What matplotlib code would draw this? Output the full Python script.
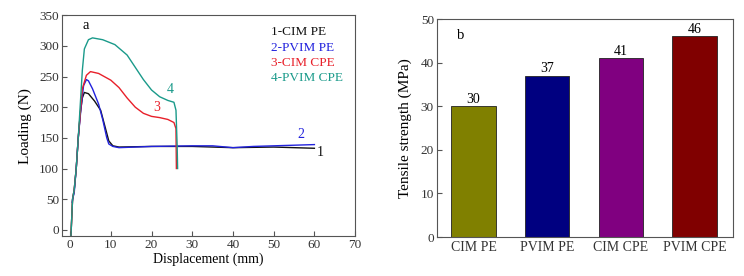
import numpy as np
import matplotlib
matplotlib.use('Agg')
import matplotlib.pyplot as plt

plt.rcParams['font.family'] = ['Liberation Serif', 'DejaVu Serif']
plt.rcParams['font.size'] = 9.5

# Curvas carga-desplazamiento
x1 = [0.2, 0.6, 1.0, 1.5, 2.0, 2.5, 3.0, 3.5, 4.5, 6.0, 7.5, 8.5, 9.5, 10.5, 12, 20, 30, 40, 50, 60]
y1 = [-10, 50, 65, 100, 150, 190, 215, 224, 222, 210, 195, 170, 145, 137, 135, 136, 136, 134, 135, 133]

x2 = [0.5, 0.8, 1.0, 1.5, 2.0, 2.7, 3.3, 4.0, 4.5, 5.5, 7.0, 8.0, 9.0, 9.5, 10.5, 12, 20, 30, 35, 40, 45, 50, 60]
y2 = [45, 55, 60, 100, 150, 200, 235, 245, 243, 230, 205, 180, 150, 140, 136, 134, 136, 137, 137, 134, 136, 137, 139]

x3 = [0.2, 0.6, 1.0, 1.5, 2.0, 3.0, 4.0, 5.0, 7.0, 10, 12, 14, 16, 18, 20, 22, 24, 25.5, 26.0, 26.1]
y3 = [-10, 50, 65, 100, 150, 230, 252, 258, 255, 244, 232, 215, 200, 190, 185, 183, 180, 175, 165, 100]

x4 = [0.2, 0.6, 1.0, 1.5, 2.0, 3.0, 3.5, 4.5, 5.5, 8, 11, 14, 16, 18, 20, 22, 24, 25.5, 26.0, 26.3, 26.4]
y4 = [-10, 50, 65, 100, 150, 260, 295, 310, 313, 310, 302, 285, 265, 245, 228, 217, 211, 208, 195, 135, 100]

leyendas = ['1-CIM PE', '2-PVIM PE', '3-CIM CPE', '4-PVIM CPE']
colores = ['#111111', '#2222dd', '#e8202a', '#1a9a8a']

# Resistencia a traccion
muestras = ['CIM PE', 'PVIM PE', 'CIM CPE', 'PVIM CPE']
resistencia = [30, 37, 41, 46]
colores_barras = ['#808000', '#000080', '#800080', '#800000']

fig = plt.figure(figsize=(7.44, 2.76), dpi=100)

# Panel a
ax1 = fig.add_axes([0.0833, 0.145, 0.394, 0.80])
for xs, ys, c in zip([x1, x2, x3, x4], [y1, y2, y3, y4], colores):
    ax1.plot(xs, ys, color=c, lw=1.0)
ax1.set_xlim(-2, 70)
ax1.set_ylim(-10, 350)
ax1.set_xticks(range(0, 71, 10))
ax1.set_yticks(range(0, 351, 50))
ax1.set_xlabel('Displacement (mm)', labelpad=1, fontsize=10)
ax1.set_ylabel('Loading (N)', labelpad=5, fontsize=11)
ax1.text(3, 328, 'a', fontsize=10.5)
for i, (t, c) in enumerate(zip(leyendas, colores)):
    ax1.text(49.4, 322 - 25 * i, t, color=c, va='center', fontsize=9.5)
ax1.text(24.5, 229, '4', color=colores[3], ha='center', va='center', fontsize=10)
ax1.text(21.3, 199, '3', color=colores[2], ha='center', va='center', fontsize=10)
ax1.text(56.8, 155, '2', color=colores[1], ha='center', va='center', fontsize=10)
ax1.text(61.5, 126, '1', color=colores[0], ha='center', va='center', fontsize=10)

# Panel b
ax2 = fig.add_axes([0.587, 0.141, 0.398, 0.79])
pos = np.arange(len(muestras))
ax2.bar(pos, resistencia, width=0.6, color=colores_barras, edgecolor='#222222', lw=0.6)
for p, v in zip(pos, resistencia):
    ax2.text(p, v + 0.1, str(v), ha='center', va='bottom', fontsize=10)
ax2.set_xlim(-0.5, 3.52)
ax2.set_ylim(0, 50)
ax2.set_xticks(pos)
ax2.set_xticklabels(muestras, fontsize=10)
ax2.set_ylabel('Tensile strength (MPa)', labelpad=6, fontsize=11)
ax2.text(-0.23, 45.5, 'b', fontsize=10.5)
ax2.tick_params(axis='x', length=0)

for ax in (ax1, ax2):
    for s in ax.spines.values():
        s.set_color('#555555')
        s.set_linewidth(0.8)
    ax.tick_params(direction='in', color='#555555', labelcolor='#333333', labelsize=9.5, pad=2)
ax2.tick_params(axis='x', labelsize=10, pad=3)

fig.savefig('out.png', dpi=100)
